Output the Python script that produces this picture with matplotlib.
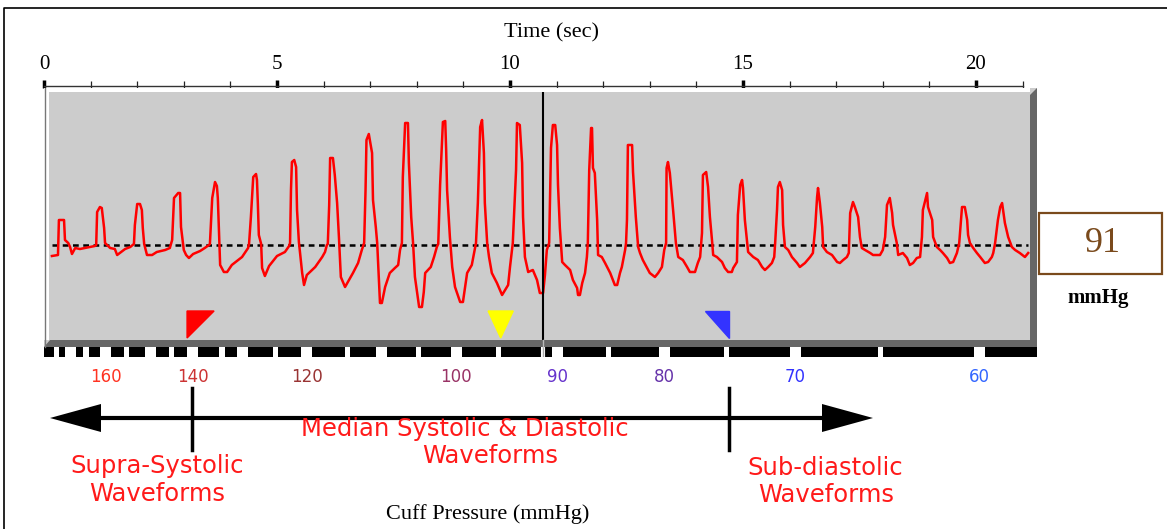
"""
Oscillometric cuff deflation: oscillation trace with cuff pressure scale
"""
import matplotlib
matplotlib.use('Agg')
import matplotlib.pyplot as plt
from matplotlib.patches import Polygon, Rectangle
from matplotlib import transforms

# oscillation trace, time (s) and amplitude about the mean line, one line per beat
trace_t = [0.17, 0.30, 0.32, 0.43, 0.45, 0.52, 0.56, 0.60, 0.67, 0.77, 0.88, 0.99, 1.09,
           1.12, 1.14, 1.20, 1.24, 1.29, 1.31, 1.42, 1.52, 1.57, 1.74, 1.85,
           1.93, 1.95, 2.00, 2.06, 2.10, 2.12, 2.15, 2.21, 2.32, 2.42, 2.60, 2.70,
           2.75, 2.79, 2.88, 2.92, 2.94, 3.00, 3.05, 3.11, 3.20, 3.35, 3.45, 3.54,
           3.56, 3.61, 3.67, 3.71, 3.73, 3.76, 3.78, 3.86, 3.93, 4.03, 4.25, 4.38,
           4.40, 4.44, 4.49, 4.55, 4.57, 4.59, 4.61, 4.66, 4.68, 4.74, 4.83, 5.00, 5.17, 5.26,
           5.28, 5.30, 5.32, 5.37, 5.41, 5.43, 5.47, 5.54, 5.58, 5.64, 5.82, 5.97, 6.03, 6.07,
           6.09, 6.12, 6.14, 6.20, 6.24, 6.29, 6.33, 6.37, 6.46, 6.63, 6.74, 6.82, 6.87,
           6.90, 6.92, 6.97, 7.04, 7.06, 7.12, 7.15, 7.21, 7.25, 7.32, 7.42, 7.53, 7.60, 7.64, 7.68,
           7.70, 7.75, 7.81, 7.83, 7.88, 7.92, 7.96, 8.05, 8.11, 8.15, 8.18, 8.30, 8.37, 8.43,
           8.46, 8.50, 8.56, 8.61, 8.63, 8.65, 8.71, 8.76, 8.82, 8.93, 8.99, 9.08, 9.18, 9.23, 9.27,
           9.31, 9.36, 9.40, 9.44, 9.46, 9.51, 9.55, 9.61, 9.72, 9.83, 9.96, 10.00, 10.06,
           10.13, 10.15, 10.21, 10.26, 10.28, 10.32, 10.39, 10.49, 10.58, 10.64, 10.71, 10.75, 10.79, 10.84,
           10.88, 10.92, 10.97, 11.01, 11.03, 11.07, 11.12, 11.18, 11.29, 11.35, 11.44, 11.46, 11.50, 11.55, 11.61, 11.65, 11.67,
           11.70, 11.74, 11.76, 11.78, 11.82, 11.87, 11.89, 11.97, 12.04, 12.15, 12.25, 12.30, 12.36, 12.40, 12.47, 12.49,
           12.51, 12.53, 12.62, 12.64, 12.70, 12.75, 12.79, 12.85, 13.00, 13.11, 13.18, 13.26, 13.31, 13.35,
           13.36, 13.39, 13.43, 13.50, 13.56, 13.61, 13.71, 13.80, 13.86, 13.97, 14.03, 14.08,
           14.12, 14.14, 14.21, 14.25, 14.29, 14.34, 14.36, 14.44, 14.55, 14.61, 14.68, 14.76, 14.79, 14.87,
           14.89, 14.94, 14.98, 15.00, 15.04, 15.09, 15.11, 15.22, 15.32, 15.41, 15.47, 15.54, 15.62, 15.67, 15.69,
           15.73, 15.75, 15.79, 15.84, 15.86, 15.90, 15.97, 16.05, 16.16, 16.22, 16.33, 16.44, 16.50,
           16.55, 16.59, 16.61, 16.65, 16.70, 16.72, 16.80, 16.91, 17.02, 17.08, 17.15, 17.23, 17.27,
           17.30, 17.36, 17.40, 17.47, 17.51, 17.55, 17.62, 17.73, 17.79, 17.94, 18.00, 18.05,
           18.09, 18.15, 18.20, 18.22, 18.30, 18.33, 18.43, 18.52, 18.58, 18.65, 18.73, 18.80, 18.84,
           18.86, 18.95, 18.97, 19.06, 19.08, 19.16, 19.23, 19.29, 19.38, 19.44, 19.51, 19.59, 19.64,
           19.70, 19.76, 19.81, 19.83, 19.87, 19.94, 20.02, 20.09, 20.19, 20.26, 20.34, 20.37, 20.41,
           20.47, 20.52, 20.56, 20.62, 20.69, 20.77, 20.84, 20.94, 21.05, 21.12]
trace_v = [-11, -10, 25, 25, 5, 2, -2, -9, -3, -4, -3, -2, -1,
           0, 33, 38, 37, 17, 2, -3, -4, -10, -4, -2,
           1, 20, 41, 41, 35, 17, 1, -10, -10, -7, -5, -3,
           5, 47, 52, 52, 18, -5, -10, -13, -9, -6, -3, 0,
           1, 47, 63, 59, 47, 7, -20, -27, -27, -20, -12, -3,
           1, 28, 68, 71, 65, 40, 10, 1, -23, -31, -21, -11, -7, -1,
           2, 55, 83, 85, 78, 35, 3, -28, -40, -30, -22, -12, -7, 0,
           1, 40, 87, 87, 70, 42, 7, -32, -42, -28, -18, -5, 2,
           55, 105, 111, 92, 45, 18, 2, -58, -58, -42, -28, -23, -20, -5, 2,
           68, 122, 122, 82, 28, 2, -32, -62, -62, -47, -28, -22, -12, -2,
           1, 60, 123, 124, 95, 55, 8, -22, -42, -57, -57, -28, -20, -8, 2,
           42, 118, 125, 92, 42, 2, -12, -28, -38, -50, -40, -22, 2,
           75, 122, 120, 82, 28, -12, -27, -25, -35, -48, -48, -30, -5, 2,
           97, 120, 120, 100, 60, 17, -17, -20, -25, -35, -43, -50, -50, -38, -28, -12, 2,
           75, 117, 117, 77, 72, 25, -10, -12, -18, -28, -40, -40, -28, -22, -5, 2,
           25, 100, 100, 73, 28, -2, -8, -15, -28, -32, -28, -22, -5, 2,
           77, 83, 72, 35, 2, -12, -15, -22, -27, -27, -18, -12,
           12, 70, 73, 58, 28, 2, -10, -12, -17, -23, -27, -27, -23, -17,
           30, 60, 65, 57, 25, 2, -7, -12, -15, -22, -25, -22, -18, -12, 2,
           35, 58, 63, 55, 20, -2, -5, -12, -18, -22, -18, -12, -8,
           18, 48, 57, 42, 18, -2, -7, -10, -17, -18, -15, -12, -8,
           32, 43, 38, 28, 8, -3, -5, -8, -10, -10, -5, 8,
           40, 47, 32, 20, 2, -10, -8, -13, -20, -18, -13, -12, 8,
           35, 52, 38, 25, 8, -2, -5, -8, -13, -18, -17, -8, 2,
           38, 38, 25, 10, 2, -3, -8, -12, -18, -17, -12, -8, 2,
           25, 38, 42, 22, 8, -2, -5, -8, -12, -8]

# cuff pressure marks (mmHg) and the time the cuff passed each one
scale_mmhg = [175, 170, 165, 160, 155, 150, 145, 140, 135, 130, 125, 120,
              115, 110, 105, 100, 95, 90, 85, 80, 75, 70, 65, 60]
scale_t = [0.26, 0.56, 0.90, 1.32, 1.77, 2.28, 2.74, 3.19, 3.82, 4.26, 4.97, 5.64,
           6.51, 7.25, 8.03, 8.85, 9.76, 11.02, 12.12, 13.32, 14.64, 16.12, 17.96, 20.07]
label_mmhg = [160, 140, 120, 100, 90, 80, 70, 60]
label_colors = ['#ff3322', '#cc3333', '#993333', '#993366',
                '#6633cc', '#6633aa', '#3333ff', '#3366ff']

# markers and cursor
systolic_t = 3.18
map_t = 9.80
diastolic_t = 14.70
cursor_t = 10.71
cursor_mmhg = 91

W, H = 1167, 529
px_s = 46.6          # pixels per second on the time scale
fig = plt.figure(figsize=(W / 100, H / 100), dpi=100)
fig.patch.set_facecolor('white')

# Waveform panel
ax = fig.add_axes([44 / W, (H - 347) / H, 993 / W, 259 / H])
ax.set_xlim(0, 993 / px_s)
ax.set_ylim(-102, 157)
ax.set_facecolor('#cccccc')
for s in ax.spines.values():
    s.set_visible(False)
ax.set_yticks([])
ax.xaxis.tick_top()
ax.set_xticks(range(0, 21, 5))
ax.set_xticks(range(0, 22), minor=True)
ax.tick_params(axis='x', which='major', direction='out', length=6, width=2.5,
               pad=4, labelsize=15, colors='black')
ax.tick_params(axis='x', which='minor', direction='out', length=5, width=0.9,
               color='#222222')
for lab in ax.get_xticklabels():
    lab.set_family('Liberation Serif')
ax.plot([0, 21], [1.008, 1.008], transform=ax.get_xaxis_transform(),
        color='#333333', lw=1, clip_on=False)

ax.hlines(0, trace_t[0], trace_t[-1], color='black', lw=1.8,
          linestyles=(0, (2.3, 1.8)), zorder=2)
ax.plot(trace_t, trace_v, color='#ff0000', lw=1.8, zorder=3)
ax.axvline(cursor_t, color='black', lw=1.5, zorder=4)

# systolic / MAP / diastolic markers
mk_top, mk_bot = -66, -93
ax.add_patch(Polygon([(systolic_t - 0.11, mk_top), (systolic_t + 0.47, mk_top),
                      (systolic_t - 0.11, mk_bot)], color='#ff0000', zorder=5))
ax.add_patch(Polygon([(map_t - 0.27, mk_top), (map_t + 0.27, mk_top),
                      (map_t, mk_bot)], color='#ffff00', zorder=5))
ax.add_patch(Polygon([(diastolic_t - 0.52, mk_top), (diastolic_t, mk_top),
                      (diastolic_t, mk_bot)], color='#3333ff', zorder=5))

# Cuff pressure bar
pax = fig.add_axes([44 / W, (H - 357) / H, 993 / W, 10 / H])
pax.set_xlim(ax.get_xlim())
pax.set_ylim(0, 1)
pax.set_facecolor('black')
for s in pax.spines.values():
    s.set_visible(False)
pax.set_xticks([])
pax.set_yticks([])
gap_w = [0.24 if p % 10 == 0 else 0.11 for p in scale_mmhg]
pax.bar(scale_t, 1, width=gap_w, bottom=0, color='white')
pax.axvline(cursor_t, color='white', lw=3)
pax.axvline(cursor_t, color='#aaaaaa', lw=1)

lab_tr = transforms.blended_transform_factory(ax.transData, fig.transFigure)
for p, c in zip(label_mmhg, label_colors):
    ax.text(scale_t[scale_mmhg.index(p)], 1 - 377 / H, str(p), transform=lab_tr,
            ha='center', va='center', fontsize=12, color=c, family='DejaVu Sans')

# Overlay for frame, bevel and explanatory diagram (pixel units)
deco = fig.add_axes([0, 0, 1, 1], zorder=5)
deco.set_xlim(0, W)
deco.set_ylim(H, 0)
deco.axis('off')
deco.plot([4, 4, W], [H, 8, 8], color='black', lw=1.2)

# panel bevel
deco.add_patch(Rectangle((44, 88), 986, 4, color='white', lw=0))
deco.add_patch(Rectangle((44, 88), 5, 252, color='white', lw=0))
deco.plot([44.5, 44.5], [88, 347], color='#777777', lw=1)
deco.add_patch(Polygon([(44, 347), (1037, 347), (1037, 88), (1030, 95),
                        (1030, 340), (50, 340)], color='#666666', lw=0))
tx = transforms.blended_transform_factory(ax.transData, deco.transData)
deco.plot([cursor_t, cursor_t], [340, 347], color='#bbbbbb', lw=1, transform=tx)

# double arrow with systolic / diastolic dividers
deco.plot([95, 826], [418, 418], color='black', lw=3)
deco.add_patch(Polygon([(50, 418), (101, 404), (101, 432)], color='black', lw=0))
deco.add_patch(Polygon([(873, 418), (822, 404), (822, 432)], color='black', lw=0))
for t in (systolic_t, diastolic_t):
    deco.plot([t, t], [388, 450], color='black', lw=2.5, transform=tx)

red_kw = dict(color='#ff1a1a', fontsize=17.5, family='DejaVu Sans', ha='center', va='center')
deco.text(465, 429, 'Median Systolic & Diastolic', **red_kw)
deco.text(490, 456, 'Waveforms', **red_kw)
deco.text(157, 466, 'Supra-Systolic', **red_kw)
deco.text(157, 494, 'Waveforms', **red_kw)
deco.text(825, 468, 'Sub-diastolic', **red_kw)
deco.text(826, 495, 'Waveforms', **red_kw)

deco.text(552, 33, 'Time (sec)', ha='center', va='center', fontsize=16,
          family='Liberation Serif', color='black')
deco.text(488, 514, 'Cuff Pressure (mmHg)', ha='center', va='center', fontsize=16,
          family='Liberation Serif', color='black')

# current cuff pressure read-out
deco.add_patch(Rectangle((1039, 213), 123, 61, fill=False, edgecolor='#7a4a1c', lw=1.6))
deco.text(1103, 244, str(cursor_mmhg), ha='center', va='center', fontsize=26,
          family='Liberation Serif', color='#7a4a1c')
deco.text(1098, 298, 'mmHg', ha='center', va='center', fontsize=15,
          family='Liberation Serif', fontweight='bold', color='black')

fig.savefig('out.png', dpi=100, facecolor='white')
